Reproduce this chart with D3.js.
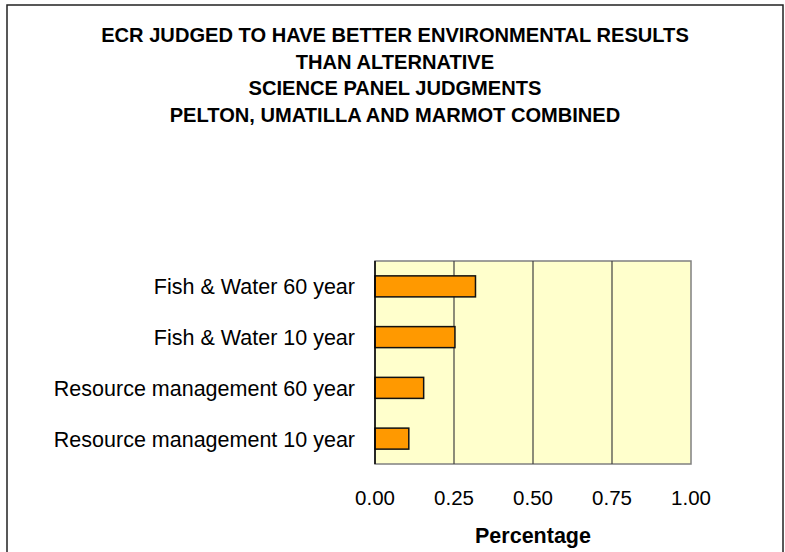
<!DOCTYPE html>
<html>
<head>
<meta charset="utf-8">
<script src="https://cdn.jsdelivr.net/npm/d3@7"></script>
<style>
  body { margin: 0; background: #ffffff; }
</style>
</head>
<body>
<script>
const titleLines = [
  "ECR JUDGED TO HAVE BETTER ENVIRONMENTAL RESULTS",
  "THAN ALTERNATIVE",
  "SCIENCE PANEL JUDGMENTS",
  "PELTON, UMATILLA AND MARMOT COMBINED"
];
const categories = [
  "Fish & Water 60 year",
  "Fish & Water 10 year",
  "Resource management 60 year",
  "Resource management 10 year"
];
const values = [0.318, 0.253, 0.154, 0.107];
const xTicks = [0, 0.25, 0.5, 0.75, 1];
const xLabel = "Percentage";

const width = 785;
const height = 552;
const margin = {top: 261, right: 94, bottom: 88, left: 375};
const font = "Arial, 'Liberation Sans', sans-serif";

const svg = d3.select("body").append("svg")
  .attr("width", width)
  .attr("height", height)
  .style("font-family", font);

// outer chart frame (bottom edge runs off the picture)
svg.append("rect")
  .attr("x", 7).attr("y", 5)
  .attr("width", 776).attr("height", 560)
  .attr("fill", "#ffffff")
  .attr("stroke", "#222222")
  .attr("stroke-width", 1.5);

svg.append("g").selectAll("text").data(titleLines).join("text")
  .attr("x", 395)
  .attr("y", (d, i) => 42 + i * 26.6)
  .attr("text-anchor", "middle")
  .attr("font-size", "20.1px")
  .attr("font-weight", "bold")
  .attr("fill", "#000000")
  .text(d => d);

const x = d3.scaleLinear().domain([0, 1]).range([margin.left, width - margin.right]);
const y = d3.scaleBand().domain(categories)
  .range([margin.top, height - margin.bottom])
  .paddingInner(0.586).paddingOuter(0.293);

// plot area
svg.append("rect")
  .attr("x", x(0)).attr("y", margin.top)
  .attr("width", x(1) - x(0)).attr("height", height - margin.bottom - margin.top)
  .attr("fill", "#ffffcc")
  .attr("stroke", "#808080")
  .attr("stroke-width", 1.5);

// vertical gridlines
svg.append("g").selectAll("line").data(xTicks.slice(1, -1)).join("line")
  .attr("x1", d => x(d)).attr("x2", d => x(d))
  .attr("y1", margin.top).attr("y2", height - margin.bottom)
  .attr("stroke", "#404040")
  .attr("stroke-width", 1.2);

// bars
svg.append("g").selectAll("rect").data(values).join("rect")
  .attr("x", x(0))
  .attr("y", (d, i) => y(categories[i]))
  .attr("width", d => x(d) - x(0))
  .attr("height", y.bandwidth())
  .attr("fill", "#ff9900")
  .attr("stroke", "#111111")
  .attr("stroke-width", 1.5);

// value axis line on the left
svg.append("line")
  .attr("x1", x(0)).attr("x2", x(0))
  .attr("y1", margin.top).attr("y2", height - margin.bottom)
  .attr("stroke", "#000000").attr("stroke-width", 1.5);

// category labels
svg.append("g").selectAll("text").data(categories).join("text")
  .attr("x", x(0) - 20)
  .attr("y", d => y(d) + y.bandwidth() / 2)
  .attr("dy", "0.37em")
  .attr("text-anchor", "end")
  .attr("font-size", "21.5px")
  .attr("fill", "#000000")
  .text(d => d);

// x tick labels
svg.append("g").selectAll("text").data(xTicks).join("text")
  .attr("x", d => x(d))
  .attr("y", 505)
  .attr("text-anchor", "middle")
  .attr("font-size", "20.5px")
  .attr("fill", "#000000")
  .text(d => d3.format(".2f")(d));

svg.append("text")
  .attr("x", (x(0) + x(1)) / 2)
  .attr("y", 543)
  .attr("text-anchor", "middle")
  .attr("font-size", "21.5px")
  .attr("font-weight", "bold")
  .attr("fill", "#000000")
  .text(xLabel);
</script>
</body>
</html>
